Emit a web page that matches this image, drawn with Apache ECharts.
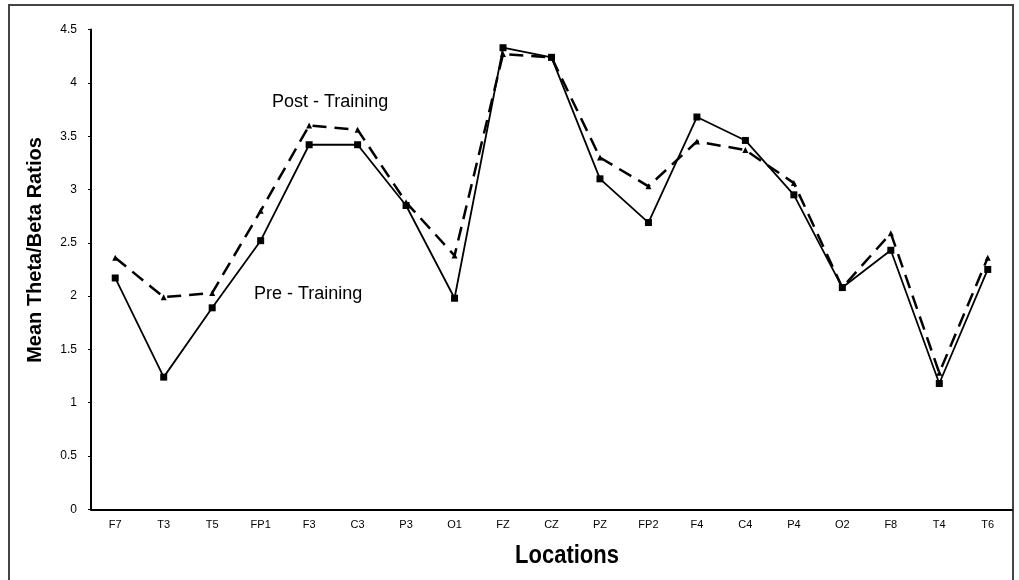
<!DOCTYPE html>
<html><head><meta charset="utf-8">
<script src="https://cdn.jsdelivr.net/npm/echarts@6/dist/echarts.min.js"></script>
<style>html,body{margin:0;padding:0;background:#fff}#c{width:1019px;height:580px}</style>
</head><body><div id="c"></div>
<script>
const categories = ['F7','T3','T5','FP1','F3','C3','P3','O1','FZ','CZ','PZ','FP2','F4','C4','P4','O2','F8','T4','T6'];
const preTraining  = [2.17,1.24,1.89,2.52,3.42,3.42,2.85,1.98,4.33,4.24,3.10,2.69,3.68,3.46,2.95,2.08,2.43,1.18,2.25];
const postTraining = [2.36,1.99,2.03,2.80,3.60,3.56,2.88,2.38,4.27,4.24,3.30,3.03,3.45,3.37,3.06,2.08,2.59,1.28,2.36];
const yTicks = [0,0.5,1,1.5,2,2.5,3,3.5,4,4.5];
const xTitle = 'Locations';
const yTitle = 'Mean Theta/Beta Ratios';

const chart = echarts.init(document.getElementById('c'), null, {renderer:'canvas'});
chart.setOption({
  animation:false,
  backgroundColor:'#fff',
  grid:{left:91,right:7,top:29.6,bottom:70.7,containLabel:false},
  xAxis:{
    type:'category', data:categories, boundaryGap:true,
    axisLine:{lineStyle:{color:'#000',width:2}},
    axisTick:{show:false},
    axisLabel:{color:'#000',fontFamily:'Liberation Sans, sans-serif',fontSize:11,margin:10}
  },
  yAxis:{
    type:'value', min:0, max:4.5, interval:0.5,
    axisLine:{show:true,lineStyle:{color:'#000',width:2}},
    axisTick:{show:true,length:3,lineStyle:{color:'#000'}},
    splitLine:{show:false},
    axisLabel:{color:'#000',fontFamily:'Liberation Sans, sans-serif',fontSize:12,margin:14,
      formatter:v=>yTicks.indexOf(v)>=0?String(v):''}
  },
  series:[
    {name:'Post - Training',type:'line',data:postTraining,symbol:'triangle',symbolSize:6,
      itemStyle:{color:'#000'},lineStyle:{color:'#000',width:2.5,type:[14,8]}},
    {name:'Pre - Training',type:'line',data:preTraining,symbol:'rect',symbolSize:7,
      itemStyle:{color:'#000'},lineStyle:{color:'#000',width:1.8}}
  ],
  graphic:[
    {type:'rect',shape:{x:9,y:5,width:1004,height:590},style:{fill:null,stroke:'#444',lineWidth:2},silent:true},
    {type:'text',left:272,top:93,style:{text:'Post - Training',font:'18px "Liberation Sans", Arial, sans-serif',fill:'#000'}},
    {type:'text',left:254,top:285,style:{text:'Pre - Training',font:'18px "Liberation Sans", Arial, sans-serif',fill:'#000'}},
    {type:'text',x:567,y:556,scaleX:0.88,style:{text:xTitle,font:'bold 25px "Liberation Sans", Arial, sans-serif',fill:'#000',align:'center',verticalAlign:'middle'}},
    {type:'text',x:35,y:250,rotation:Math.PI/2,style:{text:yTitle,font:'bold 20px "Liberation Sans", Arial, sans-serif',fill:'#000',align:'center',verticalAlign:'middle'}}
  ]
});
</script></body></html>
